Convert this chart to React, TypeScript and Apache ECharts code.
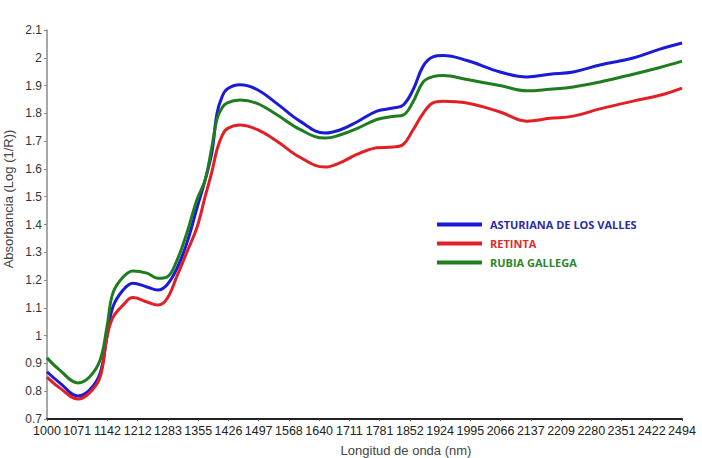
import React, { useEffect, useRef } from "react";
import * as echarts from "echarts";

const wavelengths = [1000, 1030, 1073, 1100, 1125, 1141, 1155, 1179, 1202, 1235, 1261, 1282, 1306, 1329, 1353, 1372, 1388, 1400, 1412, 1424, 1454, 1494, 1541, 1595, 1654, 1689, 1729, 1776, 1814, 1838, 1861, 1885, 1908, 1932, 1988, 2066, 2129, 2183, 2238, 2301, 2379, 2442, 2494];

const asturiana = [0.870, 0.830, 0.783, 0.804, 0.865, 0.995, 1.103, 1.164, 1.189, 1.175, 1.164, 1.182, 1.243, 1.333, 1.46, 1.56, 1.66, 1.80, 1.86, 1.888, 1.903, 1.886, 1.835, 1.772, 1.729, 1.740, 1.769, 1.808, 1.819, 1.830, 1.884, 1.970, 2.003, 2.008, 1.990, 1.949, 1.931, 1.941, 1.949, 1.974, 1.999, 2.031, 2.053];

const retinta = [0.851, 0.812, 0.772, 0.794, 0.851, 0.995, 1.065, 1.110, 1.137, 1.121, 1.110, 1.132, 1.215, 1.300, 1.39, 1.50, 1.59, 1.67, 1.72, 1.745, 1.758, 1.742, 1.700, 1.642, 1.607, 1.622, 1.652, 1.676, 1.679, 1.688, 1.740, 1.800, 1.838, 1.844, 1.837, 1.805, 1.772, 1.782, 1.790, 1.816, 1.844, 1.865, 1.891];

const rubia = [0.920, 0.876, 0.830, 0.851, 0.912, 1.031, 1.153, 1.211, 1.233, 1.225, 1.207, 1.211, 1.272, 1.369, 1.49, 1.56, 1.68, 1.78, 1.82, 1.838, 1.848, 1.836, 1.795, 1.742, 1.711, 1.722, 1.745, 1.778, 1.789, 1.794, 1.841, 1.913, 1.932, 1.936, 1.922, 1.900, 1.881, 1.887, 1.895, 1.913, 1.941, 1.965, 1.988];

const xTickLabels = ["1000", "1071", "1142", "1212", "1283", "1355", "1426", "1497", "1568", "1640", "1711", "1781", "1852", "1924", "1995", "2066", "2137", "2209", "2280", "2351", "2422", "2494"];

const seriesNames = ["ASTURIANA DE LOS VALLES", "RETINTA", "RUBIA GALLEGA"];
const lineColors = ["#1a1ad8", "#e31f26", "#1e7d1e"];
const legendTextColors = ["#2b2ba6", "#e02a2a", "#2a862a"];

export default function App() {
  const ref = useRef<HTMLDivElement>(null);
  useEffect(() => {
    document.body.style.margin = "0";
    const chart = echarts.init(ref.current!, null, { renderer: "svg" });
    const pair = (vals: number[]) => wavelengths.map((w, i) => [w, vals[i]]);
    const allVals = [asturiana, retinta, rubia];
    chart.setOption({
      animation: false,
      backgroundColor: "#ffffff",
      textStyle: { fontFamily: "Liberation Sans, Arial, sans-serif" },
      grid: { left: 47, right: 20, top: 30, bottom: 39, containLabel: false, outerBoundsMode: "none" },
      legend: {
        orient: "vertical",
        left: 437,
        top: 219,
        padding: 0,
        itemWidth: 45,
        itemHeight: 4,
        itemGap: 8,
        icon: "rect",
        data: seriesNames.map((n, i) => ({
          name: n,
          textStyle: { color: legendTextColors[i] },
        })),
        textStyle: {
          fontFamily: "Open Sans",
          fontWeight: "bold",
          fontSize: 11,
          padding: [0, 0, 0, 3],
        },
      },
      xAxis: [
        {
          type: "value",
          min: 1000,
          max: 2494,
          show: false,
          splitLine: { show: false },
        },
        {
          type: "category",
          position: "bottom",
          boundaryGap: false,
          data: xTickLabels,
          axisLine: { show: true, lineStyle: { color: "#222", width: 2 } },
          axisTick: { show: true, length: 2, alignWithLabel: true, lineStyle: { color: "#555" } },
          axisLabel: { interval: 0, color: "#222", fontSize: 12.5, margin: 5 },
          splitLine: { show: false },
        },
      ],
      yAxis: {
        type: "value",
        min: 0.7,
        max: 2.1,
        interval: 0.1,
        axisLine: { show: true, lineStyle: { color: "#8a8a8a", width: 1.5 } },
        axisTick: { show: true, length: 3, lineStyle: { color: "#8a8a8a" } },
        axisLabel: {
          color: "#333",
          fontSize: 12,
          margin: 5,
          formatter: (v: number) => String(Number(v.toFixed(1))),
        },
        splitLine: { show: false },
      },
      graphic: [
        {
          type: "text",
          x: 8,
          y: 199,
          rotation: Math.PI / 2,
          style: {
            text: "Absorbancia (Log (1/R))",
            fill: "#444",
            font: "13px 'Liberation Sans', Arial, sans-serif",
            align: "center",
            verticalAlign: "middle",
          },
        },
        {
          type: "text",
          x: 406,
          y: 450,
          style: {
            text: "Longitud de onda (nm)",
            fill: "#444",
            font: "13px 'Liberation Sans', Arial, sans-serif",
            align: "center",
            verticalAlign: "middle",
          },
        },
      ],
      series: seriesNames.map((n, i) => ({
        name: n,
        type: "line",
        xAxisIndex: 0,
        smooth: 0.4,
        showSymbol: false,
        symbol: "none",
        data: pair(allVals[i]),
        lineStyle: { color: lineColors[i], width: 3 },
        itemStyle: { color: lineColors[i] },
      })),
    });
    return () => chart.dispose();
  }, []);
  return <div ref={ref} style={{ width: 702, height: 458 }} />;
}
